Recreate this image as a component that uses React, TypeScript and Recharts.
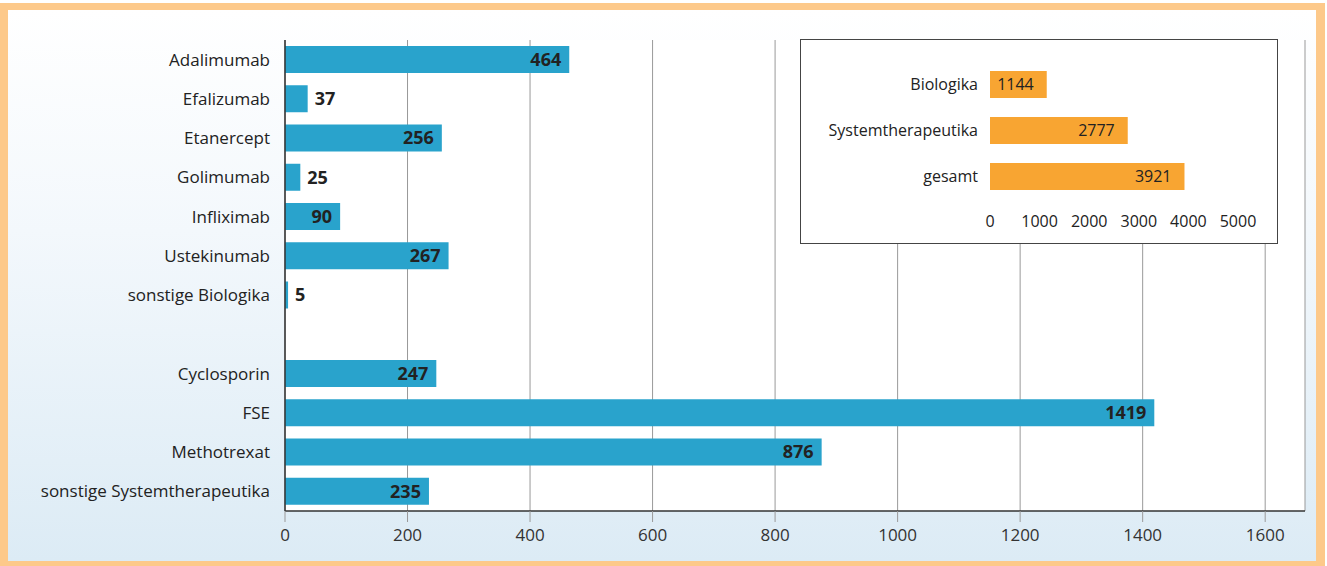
import { BarChart, Bar, XAxis, YAxis, CartesianGrid, LabelList } from 'recharts';

const categories = [
  'Adalimumab',
  'Efalizumab',
  'Etanercept',
  'Golimumab',
  'Infliximab',
  'Ustekinumab',
  'sonstige Biologika',
  '',
  'Cyclosporin',
  'FSE',
  'Methotrexat',
  'sonstige Systemtherapeutika',
];
const patients: (number | null)[] = [464, 37, 256, 25, 90, 267, 5, null, 247, 1419, 876, 235];
const mainTicks = [0, 200, 400, 600, 800, 1000, 1200, 1400, 1600];

const groups = ['Biologika', 'Systemtherapeutika', 'gesamt'];
const groupTotals = [1144, 2777, 3921];
const insetTicks = [0, 1000, 2000, 3000, 4000, 5000];

const FONT = '"Open Sans", sans-serif';
const BLUE = '#29a3cc';
const ORANGE = '#f8a532';

const mainData = categories.map((name, i) => ({ name, value: patients[i] }));
const insetData = groups.map((name, i) => ({ name, value: groupTotals[i] }));

// bold numbers: inside the bar end, or just past it when the bar is too short
const MainLabel = (props: any) => {
  const { x, y, width, height, value } = props;
  if (value == null) return null;
  const outside = value < 60;
  const tx = outside ? x + width + 7 : x + width - 8;
  return (
    <text
      x={tx}
      y={y + height / 2}
      dy="0.35em"
      textAnchor={outside ? 'start' : 'end'}
      fontFamily={FONT}
      fontWeight={700}
      fontSize={18}
      fill="#222"
    >
      {value}
    </text>
  );
};

const InsetLabel = (props: any) => {
  const { x, y, width, height, value } = props;
  return (
    <text
      x={x + width - 13}
      y={y + height / 2}
      dy="0.35em"
      textAnchor="end"
      fontFamily={FONT}
      fontSize={16}
      fill="#222"
    >
      {value}
    </text>
  );
};

export default function App() {
  return (
    <div style={{ position: 'absolute', left: 0, top: 0, width: 1327, height: 566, background: '#fff', fontFamily: FONT }}>
      <div
        style={{
          position: 'absolute',
          left: 0,
          top: 3,
          width: 1325,
          height: 563,
          boxSizing: 'border-box',
          borderStyle: 'solid',
          borderColor: '#fdc98a',
          borderWidth: '7px 9px 5px 8px',
          background: 'linear-gradient(to bottom, #ffffff 0%, #f3f8fc 40%, #dcebf5 100%)',
        }}
      />
      <div style={{ position: 'absolute', left: 0, top: 0 }}>
        <BarChart
          width={1327}
          height={566}
          data={mainData}
          layout="vertical"
          margin={{ top: 40, right: 22, bottom: 15, left: 0 }}
          barSize={27}
        >
          <CartesianGrid horizontal={false} vertical stroke="#999" fill="#fff" />
          <XAxis
            type="number"
            domain={[0, 1665]}
            ticks={mainTicks}
            allowDataOverflow
            height={40}
            axisLine={{ stroke: '#333', strokeWidth: 1.5 }}
            tickLine={{ stroke: '#999' }}
            tickSize={11}
            tickMargin={7}
            tick={{ fontSize: 17, fill: '#333', fontFamily: FONT }}
          />
          <YAxis
            type="category"
            dataKey="name"
            width={285}
            axisLine={{ stroke: '#333', strokeWidth: 1.5 }}
            tickLine={false}
            tickMargin={9}
            interval={0}
            tick={{ fontSize: 17, fill: '#222', fontFamily: FONT }}
          />
          <Bar dataKey="value" fill={BLUE} isAnimationActive={false}>
            <LabelList dataKey="value" content={MainLabel} />
          </Bar>
        </BarChart>
      </div>
      <div
        style={{
          position: 'absolute',
          left: 800,
          top: 39,
          width: 478,
          height: 205,
          boxSizing: 'border-box',
          border: '1px solid #444',
          background: '#fff',
        }}
      >
        <BarChart
          width={476}
          height={203}
          data={insetData}
          layout="vertical"
          margin={{ top: 21, right: 39, bottom: 4, left: 0 }}
          barSize={27}
        >
          <XAxis
            type="number"
            domain={[0, 5000]}
            ticks={insetTicks}
            height={40}
            axisLine={false}
            tickLine={false}
            tickSize={0}
            tickMargin={17}
            tick={{ fontSize: 16, fill: '#222', fontFamily: FONT }}
          />
          <YAxis
            type="category"
            dataKey="name"
            width={189}
            axisLine={false}
            tickLine={false}
            tickMargin={6}
            tick={{ fontSize: 16, fill: '#222', fontFamily: FONT }}
          />
          <Bar dataKey="value" fill={ORANGE} isAnimationActive={false}>
            <LabelList dataKey="value" content={InsetLabel} />
          </Bar>
        </BarChart>
      </div>
    </div>
  );
}
